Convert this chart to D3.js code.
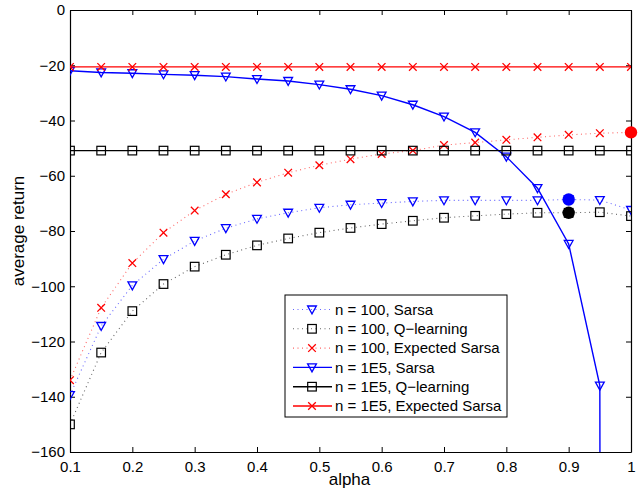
<!DOCTYPE html>
<html>
<head>
<meta charset="utf-8">
<script src="https://cdn.jsdelivr.net/npm/d3@7"></script>
<style>
  html, body { margin: 0; padding: 0; background: #fff; }
  svg { display: block; font-family: "Liberation Sans", Arial, Helvetica, sans-serif; }
</style>
</head>
<body>
<svg id="chart" width="640" height="491"></svg>
<script>
// step sizes alpha = 0.1 ... 1.0
const alphas = [0.1, 0.15, 0.2, 0.25, 0.3, 0.35, 0.4, 0.45, 0.5, 0.55,
                0.6, 0.65, 0.7, 0.75, 0.8, 0.85, 0.9, 0.95, 1.0];

// average return after n = 100 episodes
const sarsa100 = [-139.4, -114.4, -99.7, -90.2, -83.6, -79.0, -75.6, -73.4, -71.6, -70.5,
                  -69.9, -69.3, -68.9, -68.9, -68.9, -68.9, -68.6, -68.8, -72.4];
const qlearn100 = [-150.0, -124.0, -109.0, -99.2, -92.9, -88.6, -85.2, -82.7, -80.6, -78.9,
                   -77.5, -76.3, -75.2, -74.5, -73.9, -73.4, -73.4, -73.2, -74.6];
const expSarsa100 = [-134.0, -107.8, -91.6, -80.6, -72.6, -66.7, -62.4, -58.9, -56.2, -54.0,
                     -52.1, -50.9, -48.9, -48.0, -47.0, -46.1, -45.2, -44.6, -44.3];

// average return after n = 1E5 episodes
const sarsa1e5 = [-22.0, -22.6, -22.9, -23.3, -23.6, -24.1, -25.0, -25.7, -27.0, -28.7,
                  -31.0, -34.3, -38.6, -44.3, -53.1, -64.5, -84.7, -136.0, -8000];
const qlearn1e5 = [-50.9, -50.9, -50.9, -50.9, -50.9, -50.9, -50.9, -50.9, -50.9, -50.9,
                   -50.9, -50.9, -50.9, -50.9, -50.9, -50.9, -50.9, -50.9, -50.9];
const expSarsa1e5 = [-20.6, -20.6, -20.6, -20.6, -20.6, -20.6, -20.6, -20.6, -20.6, -20.6,
                     -20.6, -20.6, -20.6, -20.6, -20.6, -20.6, -20.6, -20.6, -20.6];

// best alpha for each n = 100 method (highlighted dots)
const bestPoints = [
  { alpha: 0.9, value: -68.6, color: "#0000ff" },
  { alpha: 0.9, value: -73.4, color: "#000000" },
  { alpha: 1.0, value: -44.3, color: "#ff0000" }
];

const xTicks = [0.1, 0.2, 0.3, 0.4, 0.5, 0.6, 0.7, 0.8, 0.9, 1];
const yTicks = [0, -20, -40, -60, -80, -100, -120, -140, -160];

const series = [
  { label: "n = 100, Sarsa", values: sarsa100, color: "#0000ff", marker: "tri", dotted: true },
  { label: "n = 100, Q\u2212learning", values: qlearn100, color: "#000000", marker: "sq", dotted: true },
  { label: "n = 100, Expected Sarsa", values: expSarsa100, color: "#ff0000", marker: "x", dotted: true },
  { label: "n = 1E5, Sarsa", values: sarsa1e5, color: "#0000ff", marker: "tri", dotted: false },
  { label: "n = 1E5, Q\u2212learning", values: qlearn1e5, color: "#000000", marker: "sq", dotted: false },
  { label: "n = 1E5, Expected Sarsa", values: expSarsa1e5, color: "#ff0000", marker: "x", dotted: false }
];

const svg = d3.select("#chart");
const plotLeft = 70, plotRight = 631, plotTop = 10, plotBottom = 452;

const x = d3.scaleLinear().domain([0.1, 1]).range([plotLeft, plotRight]);
const y = d3.scaleLinear().domain([-160, 0]).range([plotBottom, plotTop]);

const fmt = v => String(v).replace("-", "\u2212");

svg.append("defs").append("clipPath").attr("id", "plotClip")
  .append("rect").attr("x", plotLeft).attr("y", plotTop)
  .attr("width", plotRight - plotLeft).attr("height", plotBottom - plotTop);

// axes with inward ticks on all four sides
const tickLen = 5;
svg.append("g").attr("transform", `translate(0,${plotBottom})`)
  .call(d3.axisBottom(x).tickValues(xTicks).tickSizeInner(-tickLen).tickSizeOuter(0).tickPadding(9).tickFormat(d => d3.format("")(d)));
svg.append("g").attr("transform", `translate(0,${plotTop})`)
  .call(d3.axisTop(x).tickValues(xTicks).tickSizeInner(-tickLen).tickSizeOuter(0).tickFormat(""));
svg.append("g").attr("transform", `translate(${plotLeft},0)`)
  .call(d3.axisLeft(y).tickValues(yTicks).tickSizeInner(-tickLen).tickSizeOuter(0).tickPadding(5).tickFormat(fmt));
svg.append("g").attr("transform", `translate(${plotRight},0)`)
  .call(d3.axisRight(y).tickValues(yTicks).tickSizeInner(-tickLen).tickSizeOuter(0).tickFormat(""));

svg.selectAll(".domain").attr("stroke", "#000").attr("stroke-width", 1.2);
svg.selectAll(".tick line").attr("stroke", "#000").attr("stroke-width", 1);
svg.selectAll(".tick text").attr("font-size", 15).attr("fill", "#000")
  .attr("font-family", "'Liberation Sans', Arial, sans-serif");

// axis titles
svg.append("text").attr("x", (plotLeft + plotRight) / 2 - 1).attr("y", 485)
  .attr("text-anchor", "middle").attr("font-size", 17).text("alpha");
svg.append("text").attr("transform", `translate(24,${(plotTop + plotBottom) / 2}) rotate(-90)`)
  .attr("text-anchor", "middle").attr("font-size", 17).text("average return");

// marker shapes
function drawMarker(g, type, cx, cy, color) {
  if (type === "tri") {
    const s = 4.4;
    g.append("path")
      .attr("d", `M${cx - s},${cy - s * 0.8} L${cx + s},${cy - s * 0.8} L${cx},${cy + s * 1.0} Z`)
      .attr("fill", "none").attr("stroke", color).attr("stroke-width", 1.3);
  } else if (type === "sq") {
    const s = 4.3;
    g.append("rect").attr("x", cx - s).attr("y", cy - s).attr("width", 2 * s).attr("height", 2 * s)
      .attr("fill", "none").attr("stroke", color).attr("stroke-width", 1.2);
  } else {
    const s = 3.8;
    g.append("path")
      .attr("d", `M${cx - s},${cy - s} L${cx + s},${cy + s} M${cx - s},${cy + s} L${cx + s},${cy - s}`)
      .attr("fill", "none").attr("stroke", color).attr("stroke-width", 1.3);
  }
}

const plot = svg.append("g").attr("clip-path", "url(#plotClip)");
const line = d3.line().x((d, i) => x(alphas[i])).y(d => y(d));

series.forEach(s => {
  const g = plot.append("g");
  g.append("path").datum(s.values).attr("d", line)
    .attr("fill", "none").attr("stroke", s.color)
    .attr("stroke-width", s.dotted ? 1.1 : 1.4)
    .attr("stroke-dasharray", s.dotted ? "1,3.5" : null)
    .attr("stroke-opacity", s.dotted ? 0.6 : 1);
  s.values.forEach((v, i) => drawMarker(g, s.marker, x(alphas[i]), y(v), s.color));
});

// highlighted best points, drawn over the axis frame
svg.append("g").selectAll("circle").data(bestPoints).join("circle")
  .attr("cx", d => x(d.alpha)).attr("cy", d => y(d.value)).attr("r", 6.2)
  .attr("fill", d => d.color);

// legend
const lg = svg.append("g");
const lx = 285, ly = 295, lw = 222, lh = 122;
lg.append("rect").attr("x", lx).attr("y", ly).attr("width", lw).attr("height", lh)
  .attr("fill", "#fff").attr("stroke", "#000").attr("stroke-width", 1);
series.forEach((s, i) => {
  const cy = 309.5 + i * 19.3;
  lg.append("line").attr("x1", 293).attr("x2", 332).attr("y1", cy).attr("y2", cy)
    .attr("stroke", s.color).attr("stroke-width", s.dotted ? 1.1 : 1.4)
    .attr("stroke-dasharray", s.dotted ? "1,3.5" : null)
    .attr("stroke-opacity", s.dotted ? 0.6 : 1);
  drawMarker(lg, s.marker, 312, cy, s.color);
  lg.append("text").attr("x", 335).attr("y", cy).attr("dy", "0.35em")
    .attr("font-size", 15).text(s.label);
});
</script>
</body>
</html>
